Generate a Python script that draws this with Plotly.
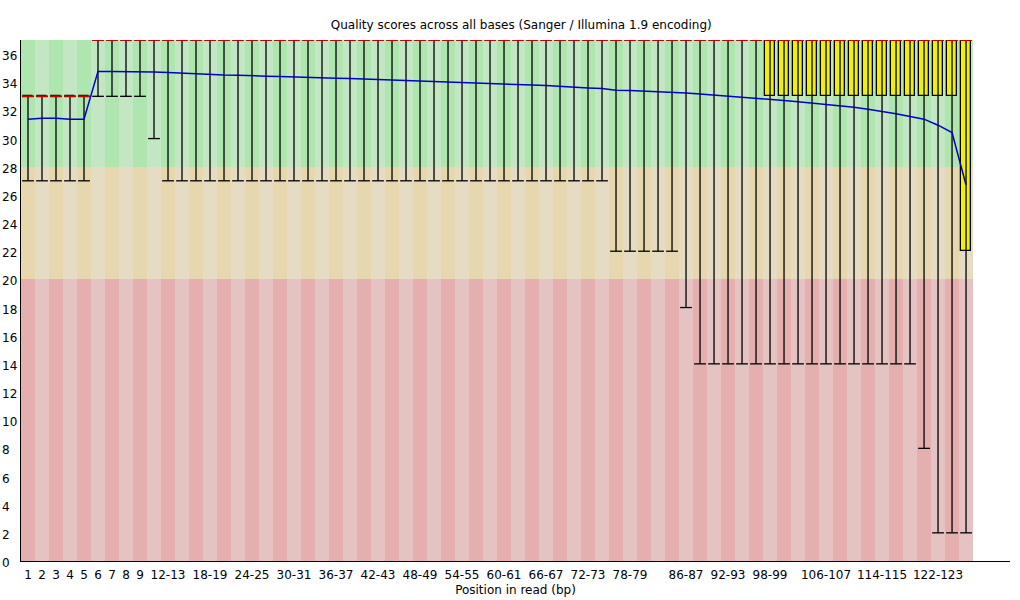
import plotly.graph_objects as go

# position groups along the read
positions = [str(i) for i in range(1, 10)] + [f"{a}-{a + 1}" for a in range(10, 127, 2)]

mean_q = [31.38, 31.45, 31.45, 31.38, 31.38, 34.77, 34.77, 34.77, 34.77, 34.72,
          34.70, 34.65, 34.58, 34.56, 34.51, 34.50, 34.44, 34.43, 34.41, 34.37,
          34.35, 34.30, 34.29, 34.27, 34.23, 34.20, 34.15, 34.12, 34.08, 34.05,
          34.01, 33.98, 33.94, 33.91, 33.87, 33.84, 33.80, 33.77, 33.73, 33.66,
          33.60, 33.55, 33.44, 33.41, 33.37, 33.33, 33.30, 33.23, 33.16, 33.09,
          33.02, 32.94, 32.87, 32.80, 32.70, 32.61, 32.52, 32.45, 32.33, 32.23,
          32.09, 31.95, 31.76, 31.56, 31.38, 30.95, 30.43, 26.70]
median_q = [33] * 5 + [37] * 63
upper_q = [33] * 5 + [37] * 63
lower_q = [33] * 5 + [37] * 48 + [33] * 14 + [22]
p90 = [33] * 5 + [37] * 63
p10 = ([27] * 5 + [33] * 4 + [30] + [27] * 32 + [22] * 5 + [18] + [14] * 16
       + [8] + [2] * 3)

# labels FastQC printed under the axis
shown_ticks = ["1", "2", "3", "4", "5", "6", "7", "8", "9", "12-13", "18-19",
               "24-25", "30-31", "36-37", "42-43", "48-49", "54-55", "60-61",
               "66-67", "72-73", "78-79", "86-87", "92-93", "98-99", "106-107",
               "114-115", "122-123"]
y_ticks = list(range(0, 37, 2))

# quality zones: (bottom, top, dark colour, light colour)
zones = [(0, 20, "rgb(230,175,175)", "rgb(230,195,195)"),
         (20, 28, "rgb(230,215,175)", "rgb(230,220,195)"),
         (28, 37, "rgb(175,230,175)", "rgb(195,230,195)")]

idx = list(range(len(positions)))
fig = go.Figure()

for lo, hi, dark, light in zones:
    fig.add_trace(go.Bar(x=idx, y=[hi - lo] * len(idx), base=[lo] * len(idx), width=1,
                         marker=dict(color=[dark if i % 2 == 0 else light for i in idx],
                                     line=dict(width=0))))

def segs(xs, y0s, y1s=None, half=0.0):
    X, Y = [], []
    for i, x in enumerate(xs):
        if y1s is None:
            X += [x - half, x + half, None]
            Y += [y0s[i], y0s[i], None]
        else:
            X += [x, x, None]
            Y += [y0s[i], y1s[i], None]
    return X, Y

# whiskers and caps
wx, wy = segs(idx, p10, p90)
fig.add_trace(go.Scatter(x=wx, y=wy, mode="lines", line=dict(color="black", width=1.3)))
cx, cy = segs(idx, p10, half=0.42)
fig.add_trace(go.Scatter(x=cx, y=cy, mode="lines", line=dict(color="black", width=1.3)))
cx, cy = segs(idx, p90, half=0.42)
fig.add_trace(go.Scatter(x=cx, y=cy, mode="lines", line=dict(color="black", width=1.3)))

# inter-quartile boxes
fig.add_trace(go.Bar(x=idx, y=[u - l for u, l in zip(upper_q, lower_q)], base=lower_q,
                     width=0.72, marker=dict(color="rgb(240,240,0)",
                                             line=dict(color="black", width=1.3))))

# medians
mx, my = segs(idx, median_q, half=0.4)
fig.add_trace(go.Scatter(x=mx, y=my, mode="lines", line=dict(color="rgb(200,0,0)", width=2)))

# means
fig.add_trace(go.Scatter(x=idx, y=mean_q, mode="lines", line=dict(color="rgb(0,0,200)", width=1.5)))

font = dict(family="DejaVu Sans", size=12, color="black")

# y labels are left aligned in the original, so draw them as annotations
for v in y_ticks:
    fig.add_annotation(x=-21 / 989, xref="paper", y=v, yref="y", text=str(v),
                       showarrow=False, xanchor="left", yanchor="middle", yshift=-2,
                       font=font)

fig.update_layout(
    width=1020, height=600,
    margin=dict(l=21, r=10, t=40, b=39),
    paper_bgcolor="white", plot_bgcolor="white",
    barmode="overlay", bargap=0, showlegend=False, hovermode=False,
    font=font,
    title=dict(text="Quality scores across all bases (Sanger / Illumina 1.9 encoding)",
               x=0.511, xref="container", xanchor="center", y=0.958, yanchor="middle",
               font=dict(family="DejaVu Sans", size=12, color="black")),
    xaxis=dict(range=[-0.5, 70.14], showgrid=False, zeroline=False, showline=True,
               linecolor="black", linewidth=1, ticks="", automargin=False,
               tickvals=[positions.index(t) for t in shown_ticks], ticktext=shown_ticks,
               tickangle=0, tickfont=font, ticklabelstandoff=3,
               title=dict(text="Position in read (bp)", font=font, standoff=4)),
    yaxis=dict(range=[0, 37], showgrid=False, zeroline=False, showline=True,
               linecolor="black", linewidth=1, ticks="", automargin=False,
               showticklabels=False),
)

# drop the browser's default page margin so the figure sits at the window corner
fig.write_html("out.html", config={"displayModeBar": False},
               post_script="document.body.style.margin='0';document.body.style.overflow='hidden';")
